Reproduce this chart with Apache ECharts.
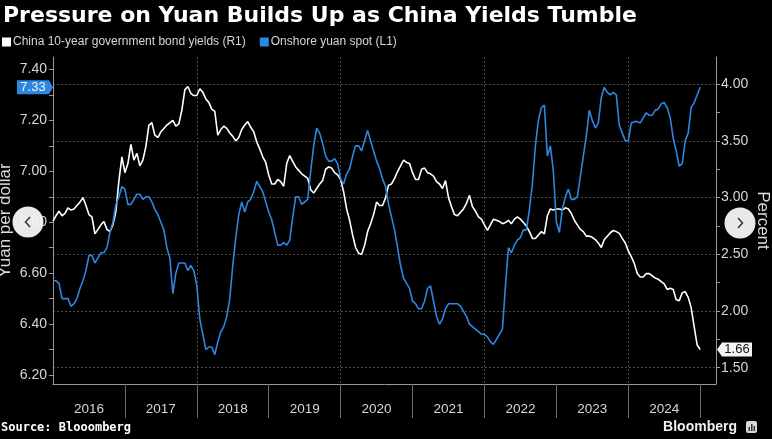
<!DOCTYPE html>
<html><head><meta charset="utf-8">
<script src="https://cdn.jsdelivr.net/npm/echarts@6/dist/echarts.min.js"></script>
<style>html,body{margin:0;padding:0;background:#000;}#c{width:772px;height:439px;}</style>
</head><body><div id="c"></div>
<script>
const titleText = 'Pressure on Yuan Builds Up as China Yields Tumble';
const seriesNames = ['China 10-year government bond yields (R1)', 'Onshore yuan spot (L1)'];
const yuanAxisName = 'Yuan per dollar';
const pctAxisName = 'Percent';
const sourceText = 'Source: Blooomberg';
const yearLabels = ['2016','2017','2018','2019','2020','2021','2022','2023','2024'];
const yuanTicks = [6.2, 6.4, 6.6, 6.8, 7.0, 7.2, 7.4];
const pctTicks = [1.5, 2.0, 2.5, 3.0, 3.5, 4.0];

// observation months (value at start of month, plus a mid-month reading)
const months = [
'2016-01','2016-02','2016-03','2016-04','2016-05','2016-06','2016-07','2016-08','2016-09','2016-10','2016-11','2016-12',
'2017-01','2017-02','2017-03','2017-04','2017-05','2017-06','2017-07','2017-08','2017-09','2017-10','2017-11','2017-12',
'2018-01','2018-02','2018-03','2018-04','2018-05','2018-06','2018-07','2018-08','2018-09','2018-10','2018-11','2018-12',
'2019-01','2019-02','2019-03','2019-04','2019-05','2019-06','2019-07','2019-08','2019-09','2019-10','2019-11','2019-12',
'2020-01','2020-02','2020-03','2020-04','2020-05','2020-06','2020-07','2020-08','2020-09','2020-10','2020-11','2020-12',
'2021-01','2021-02','2021-03','2021-04','2021-05','2021-06','2021-07','2021-08','2021-09','2021-10','2021-11','2021-12',
'2022-01','2022-02','2022-03','2022-04','2022-05','2022-06','2022-07','2022-08','2022-09','2022-10','2022-11','2022-12',
'2023-01','2023-02','2023-03','2023-04','2023-05','2023-06','2023-07','2023-08','2023-09','2023-10','2023-11','2023-12',
'2024-01','2024-02','2024-03','2024-04','2024-05','2024-06','2024-07','2024-08','2024-09','2024-10','2024-11','2024-12',
'2025-01'];

// China 10-year yield, %, start of month
const bondYield = [
2.79,2.88,2.86,2.89,2.93,3.00,2.85,2.68,2.76,2.72,2.76,3.15,
3.22,3.47,3.39,3.33,3.64,3.55,3.58,3.64,3.68,3.65,3.95,3.92,
3.90,3.93,3.84,3.76,3.60,3.61,3.54,3.53,3.64,3.62,3.49,3.36,
3.20,3.12,3.14,3.30,3.32,3.24,3.19,3.07,3.08,3.15,3.27,3.22,
3.16,2.90,2.67,2.51,2.58,2.77,2.96,2.93,3.11,3.17,3.28,3.31,
3.22,3.16,3.26,3.21,3.14,3.08,3.00,2.85,2.87,2.95,2.92,2.83,
2.76,2.76,2.80,2.77,2.80,2.81,2.81,2.75,2.64,2.67,2.68,2.90,
2.90,2.89,2.90,2.80,2.72,2.66,2.65,2.60,2.63,2.69,2.70,2.64,
2.53,2.42,2.30,2.33,2.31,2.28,2.24,2.20,2.10,2.16,2.12,1.86,
1.66];
// China 10-year yield, %, mid month
const bondYieldMid = [
2.84,2.84,2.91,2.90,2.96,2.93,2.83,2.72,2.79,2.70,2.88,3.36,
3.30,3.33,3.28,3.45,3.66,3.53,3.61,3.66,3.63,3.77,3.98,3.90,
3.96,3.87,3.78,3.55,3.63,3.57,3.50,3.60,3.67,3.58,3.43,3.31,
3.12,3.16,3.10,3.37,3.27,3.21,3.17,3.04,3.12,3.25,3.26,3.20,
3.05,2.80,2.56,2.50,2.70,2.85,2.93,3.00,3.12,3.23,3.33,3.30,
3.16,3.25,3.22,3.19,3.12,3.15,2.92,2.84,2.90,3.02,2.88,2.81,
2.71,2.81,2.79,2.78,2.77,2.83,2.78,2.70,2.64,2.70,2.84,2.89,
2.90,2.91,2.86,2.76,2.70,2.66,2.63,2.56,2.66,2.71,2.685,2.60,
2.48,2.33,2.30,2.33,2.29,2.26,2.19,2.19,2.09,2.17,2.03,1.70];

// onshore yuan per dollar, start of month
const yuanSpot = [
6.57,6.56,6.50,6.47,6.50,6.57,6.67,6.64,6.68,6.70,6.80,6.90,
6.93,6.87,6.91,6.89,6.90,6.85,6.80,6.70,6.52,6.64,6.64,6.63,
6.55,6.36,6.31,6.28,6.37,6.43,6.63,6.83,6.84,6.89,6.96,6.92,
6.84,6.76,6.71,6.71,6.82,6.90,6.88,7.00,7.17,7.11,7.04,7.05,
6.97,6.99,7.06,7.10,7.12,7.12,7.04,6.97,6.87,6.77,6.63,6.56,
6.49,6.46,6.49,6.55,6.43,6.42,6.48,6.48,6.47,6.43,6.39,6.37,
6.36,6.33,6.34,6.38,6.70,6.71,6.74,6.77,6.95,7.20,7.26,7.10,
6.80,6.85,6.93,6.89,6.98,7.14,7.20,7.19,7.33,7.30,7.30,7.15,
7.12,7.195,7.19,7.23,7.22,7.245,7.27,7.21,7.08,7.03,7.15,7.27,
7.33];
// onshore yuan per dollar, mid month
const yuanSpotMid = [
6.57,6.50,6.50,6.48,6.54,6.61,6.67,6.66,6.68,6.76,6.87,6.94,
6.87,6.89,6.91,6.90,6.88,6.83,6.77,6.66,6.60,6.64,6.61,6.61,
6.42,6.30,6.31,6.33,6.39,6.50,6.74,6.88,6.88,6.92,6.94,6.88,
6.81,6.71,6.72,6.73,6.90,6.87,6.89,7.10,7.15,7.06,7.04,7.03,
6.95,7.01,7.10,7.08,7.16,7.08,7.01,6.94,6.82,6.70,6.58,6.54,
6.48,6.46,6.54,6.49,6.40,6.46,6.48,6.48,6.45,6.40,6.38,6.36,
6.35,6.32,6.36,6.55,6.68,6.73,6.77,6.85,7.10,7.25,7.06,7.00,
6.76,6.90,6.89,6.90,7.06,7.24,7.17,7.29,7.31,7.31,7.18,7.12,
7.19,7.195,7.21,7.22,7.24,7.265,7.25,7.13,7.02,7.12,7.25,7.30];

const toYear = s => { const p = s.split('-'); return +p[0] + (+p[1] - 1) / 12; };
function build(start, mid) {
  const out = [];
  months.forEach((m, i) => {
    const x = toYear(m);
    out.push([x, start[i]]);
    if (i < mid.length) out.push([x + 1 / 24, mid[i]]);
  });
  return out;
}
const yieldData = build(bondYield, bondYieldMid);
const yuanData = build(yuanSpot, yuanSpotMid);

const X_MIN = 2016, X_MAX = 2025.22;
const yuanTickMinor = [6.2,6.3,6.4,6.5,6.6,6.7,6.8,6.9,7.0,7.1,7.2,7.3,7.4];
const pctTickMinor = [1.5,1.75,2.0,2.25,2.5,2.75,3.0,3.25,3.5,3.75,4.0];
const yearTicks = yearLabels.map(y => +y + 1);
const yearLabelPos = yearLabels.map(y => +y + 0.5);

const WHITE = '#ffffff', BLUE = '#2d86e0';
const AX = '#9a9a9a', TXT = '#d6d6d6';
const FONT = 'Liberation Sans, Arial, sans-serif';

const chart = echarts.init(document.getElementById('c'), null, {renderer: 'canvas'});
chart.setOption({
  backgroundColor: '#000',
  animation: false,
  title: {text: titleText, left: 3, top: 5, padding: 0,
    textStyle: {color: '#fff', fontSize: 22, fontWeight: 'bold', fontFamily: 'DejaVu Sans'}},
  legend: {left: 2, top: 36, padding: 0, icon: 'rect', itemWidth: 9, itemHeight: 9, itemGap: 14,
    data: seriesNames, textStyle: {color: TXT, fontSize: 12, fontFamily: FONT, padding: [0,0,0,-3]}},
  grid: {left: 53, right: 56, top: 57, bottom: 55, containLabel: false, outerBoundsMode: 'none'},
  xAxis: [{
    type: 'value', min: X_MIN, max: X_MAX, position: 'bottom',
    axisLine: {show: true, lineStyle: {color: AX, width: 1}},
    axisTick: {show: true, length: 34, customValues: yearTicks, lineStyle: {color: '#6a6a6a'}},
    axisLabel: {customValues: yearLabelPos, formatter: v => String(Math.floor(v)), color: TXT,
      fontSize: 13.5, fontFamily: FONT, margin: 18},
    splitLine: {show: false}
  }, {
    type: 'value', min: X_MIN, max: X_MAX, interval: 2, position: 'bottom',
    axisLine: {show: false}, axisTick: {show: false}, axisLabel: {show: false},
    splitLine: {show: true, lineStyle: {color: '#4a4a4a', type: [2, 2], width: 1}}
  }],
  yAxis: [{
    type: 'value', position: 'left', min: 6.1647, max: 7.449,
    name: yuanAxisName, nameLocation: 'middle', nameRotate: 90, nameGap: 39, nameMoveOverlap: false,
    nameTextStyle: {color: '#dcdcdc', fontSize: 17, fontFamily: FONT},
    axisLine: {show: true, lineStyle: {color: AX}},
    axisTick: {show: true, length: 4, customValues: yuanTickMinor, lineStyle: {color: AX}},
    axisLabel: {customValues: yuanTicks, formatter: v => v.toFixed(2), color: TXT, fontSize: 14,
      fontFamily: FONT, margin: 6},
    splitLine: {show: false}
  }, {
    type: 'value', position: 'right', min: 1.3563, max: 4.2399,
    name: pctAxisName, nameLocation: 'middle', nameRotate: -90, nameGap: 38, nameMoveOverlap: false,
    nameTextStyle: {color: '#dcdcdc', fontSize: 17, fontFamily: FONT},
    axisLine: {show: true, lineStyle: {color: AX}},
    axisTick: {show: true, length: 4, customValues: pctTickMinor, lineStyle: {color: AX}},
    axisLabel: {customValues: pctTicks, formatter: v => v.toFixed(2), color: TXT, fontSize: 14,
      fontFamily: FONT, margin: 5},
    splitLine: {show: false}
  }, {
    type: 'value', position: 'right', min: 1.3563, max: 4.2399,
    axisLine: {show: false}, axisLabel: {show: false},
    axisTick: {show: false, customValues: pctTicks},
    splitLine: {show: true, lineStyle: {color: '#4a4a4a', type: [2, 2], width: 1}}
  }],
  series: [{
    name: seriesNames[0], type: 'line', xAxisIndex: 0, yAxisIndex: 1, data: yieldData,
    symbol: 'none', lineStyle: {color: WHITE, width: 1.6}, itemStyle: {color: WHITE}
  }, {
    name: seriesNames[1], type: 'line', xAxisIndex: 0, yAxisIndex: 0, data: yuanData,
    symbol: 'none', lineStyle: {color: BLUE, width: 1.6}, itemStyle: {color: BLUE}
  }]
});

// end-value tags placed through the axes' own scales
const lastYuan = yuanSpot[yuanSpot.length - 1];
const lastYield = bondYield[bondYield.length - 1];
const yB = chart.convertToPixel({yAxisIndex: 0}, lastYuan);
const yW = chart.convertToPixel({yAxisIndex: 1}, lastYield);
const xLeft = chart.convertToPixel({xAxisIndex: 0}, X_MIN);
const xRight = chart.convertToPixel({xAxisIndex: 0}, X_MAX);
const H = 7;
chart.setOption({graphic: [
  {type: 'polygon', shape: {points: [[xLeft - 36, yB - H], [xLeft - 4, yB - H], [xLeft, yB], [xLeft - 4, yB + H], [xLeft - 36, yB + H]]},
    style: {fill: BLUE}, z: 100},
  {type: 'text', x: xLeft - 20, y: yB, style: {text: lastYuan.toFixed(2), fill: '#e8f0fa', font: '13px ' + FONT, align: 'center', verticalAlign: 'middle'}, z: 101},
  {type: 'polygon', shape: {points: [[xRight + 1, yW], [xRight + 6, yW - H], [xRight + 36, yW - H], [xRight + 36, yW + H], [xRight + 6, yW + H]]},
    style: {fill: '#f4f4f4'}, z: 100},
  {type: 'text', x: xRight + 21, y: yW, style: {text: lastYield.toFixed(2), fill: '#111', font: '13px ' + FONT, align: 'center', verticalAlign: 'middle'}, z: 101},
  {type: 'text', x: 1, y: 428, style: {text: sourceText, fill: '#fff', font: 'bold 12px DejaVu Sans Mono, monospace', verticalAlign: 'middle'}, z: 100},
  {type: 'text', x: 737, y: 427, style: {text: 'Bloomberg', fill: '#f0f0f0', font: 'bold 14px Liberation Sans Narrow, Liberation Sans, sans-serif', align: 'right', verticalAlign: 'middle'}, z: 100},
  {type: 'rect', shape: {x: 746, y: 421, width: 11, height: 12, r: 2}, style: {fill: '#d8d8d8'}, z: 100},
  {type: 'rect', shape: {x: 748.5, y: 427, width: 1.5, height: 4}, style: {fill: '#333'}, z: 101},
  {type: 'rect', shape: {x: 751, y: 424, width: 1.5, height: 7}, style: {fill: '#333'}, z: 101},
  {type: 'rect', shape: {x: 753.5, y: 426, width: 1.5, height: 5}, style: {fill: '#333'}, z: 101},
  {type: 'circle', shape: {cx: 28, cy: 222, r: 15.5}, style: {fill: 'rgba(245,245,245,0.95)'}, z: 110},
  {type: 'polyline', shape: {points: [[30, 217], [25.5, 222], [30, 227]]}, style: {stroke: '#333', lineWidth: 1.5, fill: null}, z: 111},
  {type: 'circle', shape: {cx: 740, cy: 223, r: 15.5}, style: {fill: 'rgba(245,245,245,0.95)'}, z: 110},
  {type: 'polyline', shape: {points: [[738, 218], [742.5, 223], [738, 228]]}, style: {stroke: '#333', lineWidth: 1.5, fill: null}, z: 111}
]});
</script></body></html>
